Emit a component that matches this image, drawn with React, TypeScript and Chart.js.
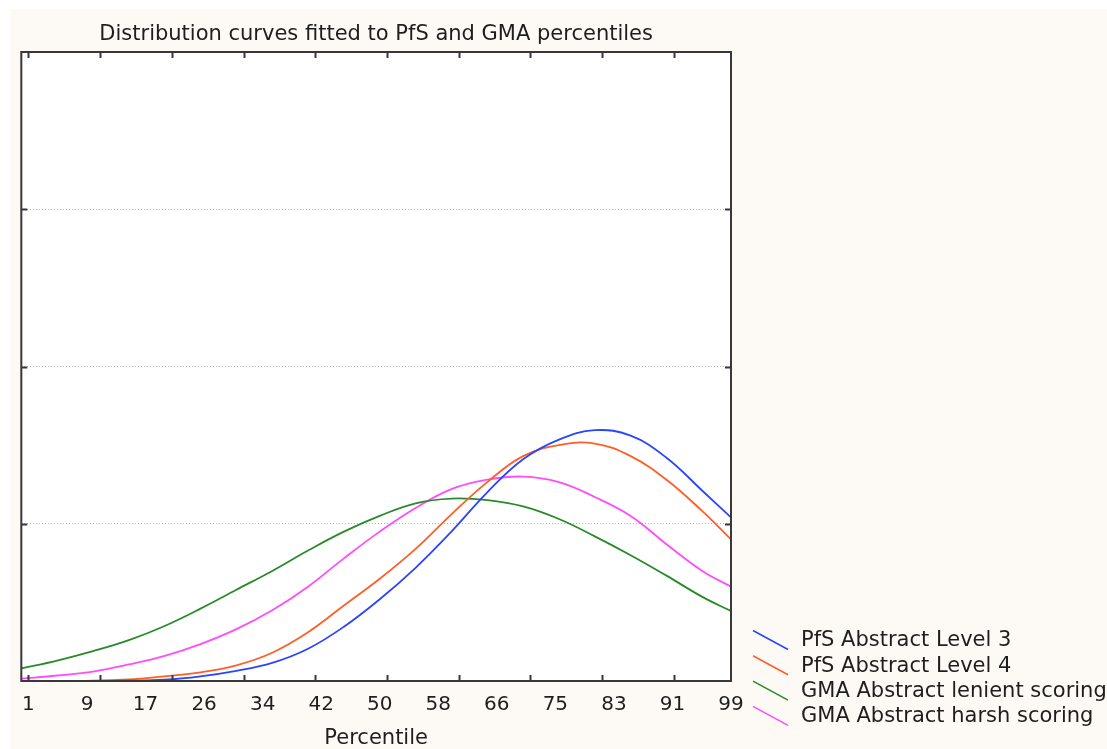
import React, { useEffect, useRef } from 'react';
import { Chart, registerables } from 'chart.js';

Chart.register(...registerables);

// ---- data ----
const percentiles = [0, 5, 10, 15, 20, 25, 30, 35, 40, 45, 50, 55, 60, 65, 70, 75, 80, 85, 90, 95, 99];
const pfsLevel3 = [0, 0, 0, 0.002, 0.008, 0.03, 0.065, 0.115, 0.205, 0.345, 0.52, 0.72, 0.95, 1.2, 1.41, 1.535, 1.595, 1.56, 1.42, 1.21, 1.04];
const pfsLevel4 = [0, 0, 0.003, 0.01, 0.03, 0.055, 0.1, 0.18, 0.31, 0.48, 0.65, 0.84, 1.06, 1.265, 1.43, 1.5, 1.51, 1.43, 1.28, 1.08, 0.9];
const gmaLenient = [0.08, 0.13, 0.19, 0.26, 0.35, 0.46, 0.58, 0.7, 0.83, 0.95, 1.05, 1.13, 1.16, 1.15, 1.11, 1.03, 0.92, 0.8, 0.67, 0.535, 0.445];
const gmaHarsh = [0.015, 0.035, 0.06, 0.105, 0.16, 0.235, 0.33, 0.45, 0.6, 0.78, 0.95, 1.1, 1.22, 1.28, 1.3, 1.265, 1.17, 1.05, 0.87, 0.7, 0.6];

const seriesLabels = ['PfS Abstract Level 3', 'PfS Abstract Level 4', 'GMA Abstract lenient scoring', 'GMA Abstract harsh scoring'];
const seriesColors = ['#2a44ff', '#ff5e28', '#2a8a2a', '#ff4cff'];
const tickLabels = ['1', '9', '17', '26', '34', '42', '50', '58', '66', '75', '83', '91', '99'];
const minorTickValues = [1, 11, 21, 31, 41, 51, 61, 71, 81, 91];
const yGridValues = [1, 2, 3];

const chartTitle = 'Distribution curves fitted to PfS and GMA percentiles';
const xTitle = 'Percentile';

const FONT = '"DejaVu Sans", Verdana, sans-serif';
const TEXT = '#1e1e1e';

const backgroundPlugin = {
  id: 'bg',
  beforeDraw(chart: any) {
    const { ctx, chartArea, width, height } = chart;
    ctx.save();
    ctx.fillStyle = '#fdfaf5';
    ctx.fillRect(0, 0, width, height);
    ctx.fillStyle = '#ffffff';
    ctx.fillRect(chartArea.left, chartArea.top, chartArea.right - chartArea.left, chartArea.bottom - chartArea.top);
    ctx.restore();
  },
};

const framePlugin = {
  id: 'frame',
  afterDatasetsDraw(chart: any) {
    const { ctx, chartArea } = chart;
    const xs = chart.scales.x;
    const ys = chart.scales.y;
    ctx.save();
    ctx.strokeStyle = '#383838';
    ctx.lineWidth = 2;
    ctx.strokeRect(chartArea.left, chartArea.top, chartArea.right - chartArea.left, chartArea.bottom - chartArea.top);
    ctx.beginPath();
    const len = 6;
    minorTickValues.forEach((v) => {
      const px = Math.round(xs.getPixelForValue(v)) + 0.5;
      ctx.moveTo(px, chartArea.top);
      ctx.lineTo(px, chartArea.top + len);
      ctx.moveTo(px, chartArea.bottom);
      ctx.lineTo(px, chartArea.bottom - len);
    });
    yGridValues.forEach((v) => {
      const py = Math.round(ys.getPixelForValue(v)) + 0.5;
      ctx.moveTo(chartArea.left, py);
      ctx.lineTo(chartArea.left + len, py);
      ctx.moveTo(chartArea.right, py);
      ctx.lineTo(chartArea.right - len, py);
    });
    ctx.stroke();
    ctx.restore();
  },
};

const legendPlugin = {
  id: 'customLegend',
  afterDraw(chart: any) {
    const { ctx, chartArea } = chart;
    ctx.save();
    ctx.font = `21px ${FONT}`;
    ctx.textBaseline = 'middle';
    ctx.textAlign = 'left';
    chart.data.datasets.forEach((ds: any, i: number) => {
      const cy = chartArea.bottom - 41 + i * 25.3;
      ctx.strokeStyle = ds.borderColor;
      ctx.lineWidth = 1.6;
      ctx.beginPath();
      ctx.moveTo(chartArea.right + 22, cy - 9.5);
      ctx.lineTo(chartArea.right + 57, cy + 9.5);
      ctx.stroke();
      ctx.fillStyle = TEXT;
      ctx.fillText(ds.label, chartArea.right + 70, cy + 1);
    });
    ctx.restore();
  },
};

export default function App() {
  const canvasRef = useRef<HTMLCanvasElement | null>(null);

  useEffect(() => {
    if (!canvasRef.current) return;
    const series = [pfsLevel3, pfsLevel4, gmaLenient, gmaHarsh];
    const labelPositions = tickLabels.map((_, i) => 1 + (i * 98) / (tickLabels.length - 1));
    const chart = new Chart(canvasRef.current, {
      type: 'line',
      data: {
        datasets: series.map((s, i) => ({
          label: seriesLabels[i],
          data: s.map((y, j) => ({ x: percentiles[j], y })),
          borderColor: seriesColors[i],
          backgroundColor: seriesColors[i],
          borderWidth: 1.8,
          pointRadius: 0,
          fill: false,
          tension: 0.4,
        })),
      },
      options: {
        animation: false,
        responsive: true,
        maintainAspectRatio: false,
        layout: { padding: { left: 10, right: 376, top: 0, bottom: 0 } },
        plugins: {
          legend: { display: false },
          tooltip: { enabled: false },
          title: {
            display: true,
            text: chartTitle,
            fullSize: false,
            color: TEXT,
            font: { family: FONT, size: 21, weight: 'normal' as const, lineHeight: 1.2 },
            padding: { top: 13, bottom: 4.8 },
          },
        },
        scales: {
          x: {
            type: 'linear',
            min: 0,
            max: 99,
            afterBuildTicks: (scale: any) => {
              scale.ticks = labelPositions.map((v) => ({ value: v }));
            },
            ticks: {
              autoSkip: false,
              maxRotation: 0,
              color: TEXT,
              padding: 12,
              font: { family: FONT, size: 20 },
              callback: (_v: any, index: number) => tickLabels[index],
            },
            grid: { display: false, drawTicks: false, tickLength: 0 },
            border: { display: false },
            title: {
              display: true,
              text: xTitle,
              color: TEXT,
              font: { family: FONT, size: 21, lineHeight: 1 },
              padding: { top: -1, bottom: 0 },
            },
          },
          y: {
            type: 'linear',
            min: 0,
            max: 4,
            ticks: { display: false, stepSize: 1 },
            grid: {
              drawTicks: false,
              tickLength: 0,
              color: (ctx: any) => (yGridValues.includes(ctx.tick?.value) ? '#b4b4b4' : 'rgba(0,0,0,0)'),
              lineWidth: 1,
            },
            border: { display: false, dash: [1, 2] },
          },
        },
      },
      plugins: [backgroundPlugin, framePlugin, legendPlugin],
    });
    return () => chart.destroy();
  }, []);

  return (
    <div style={{ position: 'fixed', left: 10, top: 9, width: 1097, height: 740 }}>
      <canvas ref={canvasRef} />
    </div>
  );
}
